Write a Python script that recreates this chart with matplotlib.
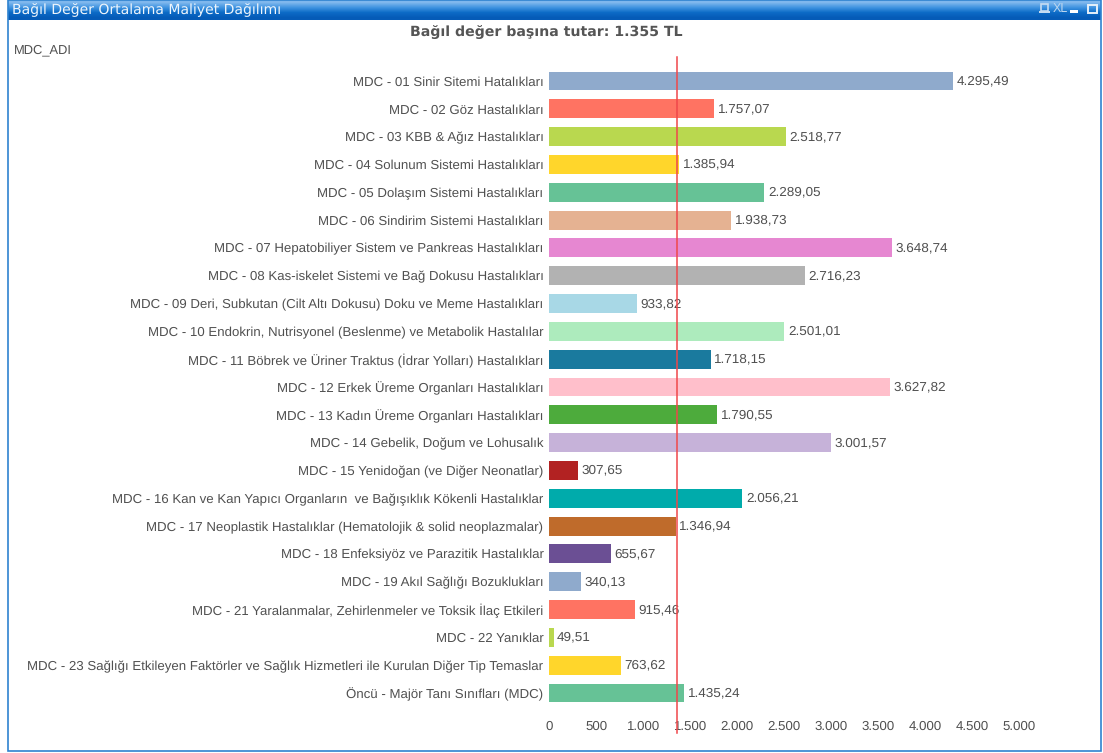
import numpy as np
import matplotlib
matplotlib.use("Agg")
import matplotlib.pyplot as plt
from matplotlib.patches import Rectangle

# Data
categories = [
    "MDC - 01 Sinir Sitemi Hatalıkları",
    "MDC - 02 Göz Hastalıkları",
    "MDC - 03 KBB & Ağız Hastalıkları",
    "MDC - 04 Solunum Sistemi Hastalıkları",
    "MDC - 05 Dolaşım Sistemi Hastalıkları",
    "MDC - 06 Sindirim Sistemi Hastalıkları",
    "MDC - 07 Hepatobiliyer Sistem ve Pankreas Hastalıkları",
    "MDC - 08 Kas-iskelet Sistemi ve Bağ Dokusu Hastalıkları",
    "MDC - 09 Deri, Subkutan (Cilt Altı Dokusu) Doku ve Meme Hastalıkları",
    "MDC - 10 Endokrin, Nutrisyonel (Beslenme) ve Metabolik Hastalılar",
    "MDC - 11 Böbrek ve Üriner Traktus (İdrar Yolları) Hastalıkları",
    "MDC - 12 Erkek Üreme Organları Hastalıkları",
    "MDC - 13 Kadın Üreme Organları Hastalıkları",
    "MDC - 14 Gebelik, Doğum ve Lohusalık",
    "MDC - 15 Yenidoğan (ve Diğer Neonatlar)",
    "MDC - 16 Kan ve Kan Yapıcı Organların  ve Bağışıklık Kökenli Hastalıklar",
    "MDC - 17 Neoplastik Hastalıklar (Hematolojik & solid neoplazmalar)",
    "MDC - 18 Enfeksiyöz ve Parazitik Hastalıklar",
    "MDC - 19 Akıl Sağlığı Bozuklukları",
    "MDC - 21 Yaralanmalar, Zehirlenmeler ve Toksik İlaç Etkileri",
    "MDC - 22 Yanıklar",
    "MDC - 23 Sağlığı Etkileyen Faktörler ve Sağlık Hizmetleri ile Kurulan Diğer Tip Temaslar",
    "Öncü - Majör Tanı Sınıfları (MDC)",
]
values = [4295.49, 1757.07, 2518.77, 1385.94, 2289.05, 1938.73, 3648.74, 2716.23,
          933.82, 2501.01, 1718.15, 3627.82, 1790.55, 3001.57, 307.65, 2056.21,
          1346.94, 655.67, 340.13, 915.46, 49.51, 763.62, 1435.24]
bar_colors = ["#8FAACC", "#FF7362", "#B9D84F", "#FFD62B", "#66C296", "#E5B292",
              "#E687D1", "#B2B2B2", "#A8D8E6", "#ADEBBD", "#1A7A9E", "#FFBFCB",
              "#4DAB3C", "#C6B2D9", "#B22222", "#00ABAB", "#BF6B2B", "#6B4F94",
              "#8FAACC", "#FF7362", "#B9D84F", "#FFD62B", "#66C296"]
ticks = [0, 500, 1000, 1500, 2000, 2500, 3000, 3500, 4000, 4500, 5000]
tick_labels = ["0", "500", "1.000", "1.500", "2.000", "2.500", "3.000", "3.500", "4.000", "4.500", "5.000"]
reference = 1355

W, H = 1103, 753
TXT = "#505050"
plt.rcParams["font.family"] = ["Liberation Sans", "DejaVu Sans"]
plt.rcParams["text.hinting"] = "no_hinting"

fig = plt.figure(figsize=(W / 100, H / 100), dpi=100, facecolor="white")


def box(left, top, right, bottom):
    return [left / W, 1 - bottom / H, (right - left) / W, (bottom - top) / H]


# Window frame
fig.add_artist(Rectangle((7.5 / W, 1 - 750.5 / H), 1093.5 / W, 750.5 / H, transform=fig.transFigure,
                         fill=False, edgecolor="#2F83D0", linewidth=1.2))

# Caption bar
cap = fig.add_axes(box(8, 0, 1101, 20))
cap.axis("off")
grad = np.array([[0.50, 0.72, 0.93], [0.25, 0.58, 0.88], [0.05, 0.42, 0.78], [0.02, 0.36, 0.72]])
cap.imshow(grad[:, None, :], aspect="auto", interpolation="bilinear", extent=(8, 1101, 20, 0))
cap.text(12, 9, "Bağıl Değer Ortalama Maliyet Dağılımı", color="#EEF5FC", fontsize=10.1,
         family=["DejaVu Sans"], va="center", ha="left")
cap.text(1060, 9, "XL", color="#BBD6F0", fontsize=9, va="center", ha="center")
cap.add_patch(Rectangle((1041, 4), 7, 7, fill=False, edgecolor="#C5DCF2", linewidth=1.2))
cap.add_patch(Rectangle((1039, 11), 11, 2, facecolor="#C5DCF2", edgecolor="none"))
cap.add_patch(Rectangle((1070, 10), 8, 2.5, facecolor="white", edgecolor="none"))
cap.add_patch(Rectangle((1087.5, 4.5), 9, 8.5, fill=False, edgecolor="#E5F0FA", linewidth=1.4))
cap.set_xlim(8, 1101)
cap.set_ylim(20, 0)

fig.text(546 / W, 1 - 32.5 / H, "Bağıl değer başına tutar: 1.355 TL", family=["DejaVu Sans"],
         fontsize=10.2, fontweight="bold", color="#555555", ha="center", va="center")
fig.text(14 / W, 1 - 50 / H, "MDC_ADI", fontsize=9.3, color=TXT, ha="left", va="center")

# Bars
ax = fig.add_axes(box(549, 67.1, 1019.5, 706.9))
y = np.arange(len(values))
ax.barh(y, values, height=0.68, color=bar_colors)
ax.set_xlim(0, 5000)
ax.set_ylim(len(values) - 0.5, -0.5)
ax.set_yticks(y)
ax.set_yticklabels(categories, fontsize=9.5, color=TXT)
ax.set_xticks(ticks)
ax.set_xticklabels(tick_labels, fontsize=9.5, color=TXT)
ax.tick_params(axis="both", length=0)
ax.tick_params(axis="y", pad=4)
ax.tick_params(axis="x", pad=10)
for s in ax.spines.values():
    s.set_visible(False)

for yi, v in zip(y, values):
    label = f"{v:,.2f}".replace(",", "#").replace(".", ",").replace("#", ".")
    ax.annotate(label, (v, yi), xytext=(2.5, 0), textcoords="offset points", fontsize=9.7,
                color=TXT, va="center", ha="left")

# Average line, runs a bit past the plot area
ax.plot([reference, reference], [-0.85, 23.45], color="#F0474A", linewidth=1.1, clip_on=False, zorder=5)

fig.savefig("out.png", dpi=100)
